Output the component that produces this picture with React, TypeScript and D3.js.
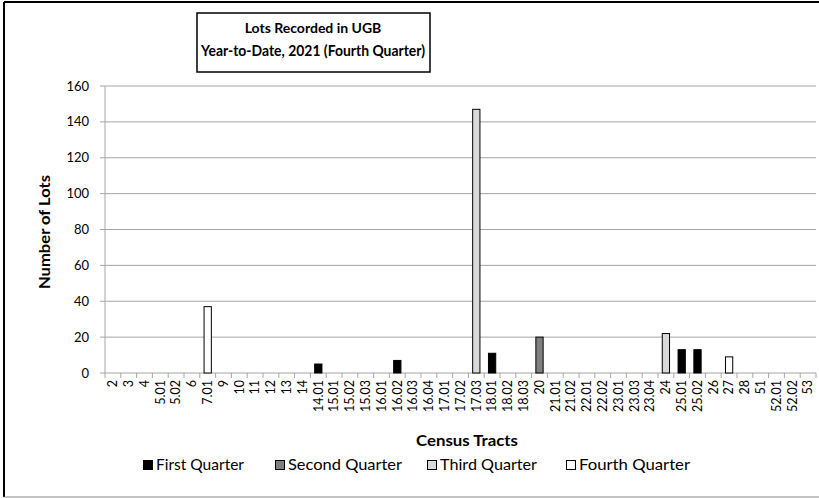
import React from "react";
import * as d3 from "d3";

const tracts = [
  "2", "3", "4", "5.01", "5.02", "6", "7.01", "9", "10", "11", "12", "13", "14", "14.01",
  "15.01", "15.02", "15.03", "16.01", "16.02", "16.03", "16.04", "17.01", "17.02", "17.03",
  "18.01", "18.02", "18.03", "20", "21.01", "21.02", "22.01", "22.02", "23.01", "23.03",
  "23.04", "24", "25.01", "25.02", "26", "27", "28", "51", "52.01", "52.02", "53",
];

// only non-empty tracts listed; everything else is zero
const firstQuarter: [string, number][] = [
  ["14.01", 5], ["16.02", 7], ["18.01", 11], ["25.01", 13], ["25.02", 13],
];
const secondQuarter: [string, number][] = [["20", 20]];
const thirdQuarter: [string, number][] = [["17.03", 147], ["24", 22]];
const fourthQuarter: [string, number][] = [["7.01", 37], ["27", 9]];

const yTicks = [0, 20, 40, 60, 80, 100, 120, 140, 160];

const seriesList = [
  { name: "First Quarter", values: firstQuarter, fill: "#000000" },
  { name: "Second Quarter", values: secondQuarter, fill: "#808080" },
  { name: "Third Quarter", values: thirdQuarter, fill: "#d9d9d9" },
  { name: "Fourth Quarter", values: fourthQuarter, fill: "#ffffff" },
];

const W = 819;
const H = 498;
const font = "Lato, 'Open Sans', sans-serif";

export default function App() {
  const x = d3.scaleBand<string>().domain(tracts).range([105, 816]);
  const y = d3.scaleLinear().domain([0, 160]).range([373, 86]);
  const barW = x.bandwidth() * 0.46;
  const grid = "#a6a6a6";

  const legendX = [143, 275, 427, 566];
  const legendLen = [88, 114, 97, 111];

  return (
    <div style={{ position: "absolute", left: 0, top: 0 }}>
      <svg width={W} height={H} style={{ display: "block", fontFamily: font }}>
        <rect x={0} y={0} width={W} height={H} fill="#fff" />
        {/* chart frame */}
        <line x1={4} x2={W} y1={2} y2={2} stroke="#000" strokeWidth={2} />
        <line x1={4} x2={4} y1={2} y2={497} stroke="#000" strokeWidth={2} />
        <line x1={4} x2={W} y1={497} y2={497} stroke="#888" strokeWidth={1} />

        {/* gridlines */}
        {yTicks.map((t) => (
          <g key={t}>
            <line x1={100} x2={816} y1={y(t)} y2={y(t)} stroke={grid} strokeWidth={1} />
            <text x={89} y={y(t)} dy="0.35em" textAnchor="end" fontSize={13} fill="#000">
              {t}
            </text>
          </g>
        ))}
        <line x1={105} x2={105} y1={y(160)} y2={y(0)} stroke={grid} />

        {/* x ticks and labels */}
        {tracts.map((t) => (
          <g key={t}>
            <line x1={x(t)!} x2={x(t)!} y1={373} y2={378} stroke={grid} />
            <text
              transform={`translate(${x(t)! + x.bandwidth() / 2},380) rotate(-90)`}
              dy="0.35em"
              textAnchor="end"
              fontSize={12.5}
              fill="#000"
            >
              {t}
            </text>
          </g>
        ))}
        <line x1={816} x2={816} y1={373} y2={378} stroke={grid} />

        {/* bars */}
        {seriesList.map((s) =>
          s.values.map(([k, v]) => (
            <rect
              key={s.name + k}
              x={x(k)! + (x.bandwidth() - barW) / 2}
              y={y(v)}
              width={barW}
              height={y(0) - y(v)}
              fill={s.fill}
              stroke="#000"
              strokeWidth={1}
            />
          ))
        )}

        {/* title box */}
        <rect x={197} y={13} width={233} height={59} fill="#fff" stroke="#000" strokeWidth={1.5} />
        <text x={313} y={33} textAnchor="middle" fontSize={14} fontWeight="bold">
          Lots Recorded in UGB
        </text>
        <text x={313} y={56} textAnchor="middle" fontSize={15} fontWeight="bold"
          textLength={224} lengthAdjust="spacingAndGlyphs">
          Year-to-Date, 2021 (Fourth Quarter)
        </text>

        {/* axis titles */}
        <text
          transform={`translate(45,232) rotate(-90)`}
          textAnchor="middle"
          dy="0.35em"
          fontSize={15}
          fontWeight="bold"
          textLength={114}
          lengthAdjust="spacingAndGlyphs"
        >
          Number of Lots
        </text>
        <text x={467} y={441} textAnchor="middle" dy="0.35em" fontSize={15} fontWeight="bold"
          textLength={102} lengthAdjust="spacingAndGlyphs">
          Census Tracts
        </text>

        {/* legend */}
        {seriesList.map((s, i) => (
          <g key={s.name} transform={`translate(${legendX[i]},465)`}>
            <rect x={0.5} y={-4.5} width={9} height={9} fill={s.fill} stroke="#000" strokeWidth={1} />
            <text x={13} y={0} dy="0.35em" fontSize={15} fill="#000"
              textLength={legendLen[i]} lengthAdjust="spacingAndGlyphs">
              {s.name}
            </text>
          </g>
        ))}
      </svg>
    </div>
  );
}
